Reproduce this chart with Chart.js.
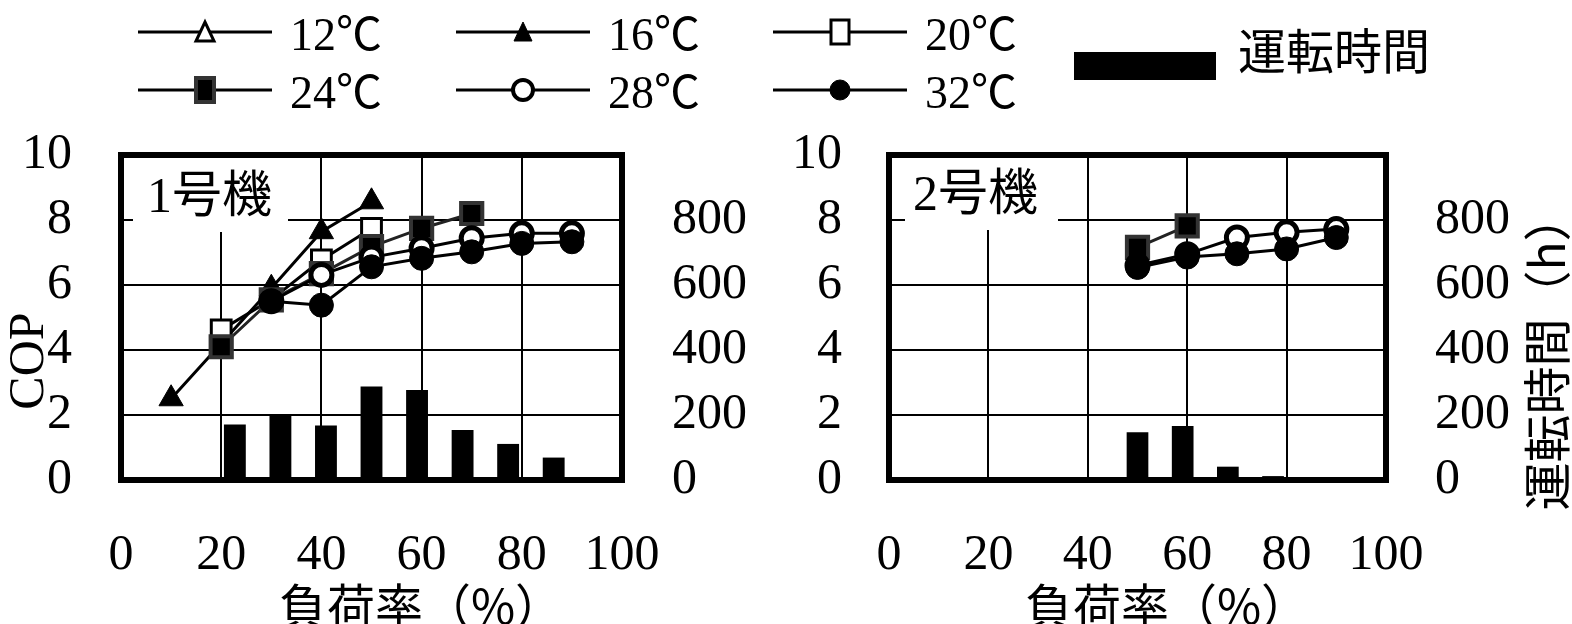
<!DOCTYPE html>
<html>
<head>
<meta charset="utf-8">
<script src="https://cdn.jsdelivr.net/npm/chart.js@4.4.0/dist/chart.umd.min.js"></script>
<style>
  body { margin: 0; background: #fff; width: 1572px; height: 624px; overflow: hidden; position: relative; }
  #legend { position: absolute; left: 0; top: 0; z-index: 2; }
  .box { position: absolute; top: 0; width: 786px; height: 624px; }
</style>
</head>
<body>
<svg id="legend" width="1572" height="120"></svg>
<div class="box" style="left:0"><canvas id="unit1" width="786" height="624"></canvas></div>
<div class="box" style="left:786px"><canvas id="unit2" width="786" height="624"></canvas></div>
<script>
// load factor (%) for the COP points, and the categories used by the hour bars
var loads = [10, 20, 30, 40, 50, 60, 70, 80, 90];
var barCats = ["0", "10", "20", "30", "40", "50", "60", "70", "80", "90", "100"];
var tempNames = ["12℃", "16℃", "20℃", "24℃", "28℃", "32℃"];

// unit 1 (1号機) COP by outdoor temperature
var u1c12 = [null, null, null, null, null, null, null, null, null];
var u1c16 = [2.5, 4.2, 5.9, 7.64, 8.56, null, null, null, null];
var u1c20 = [null, 4.62, 5.55, 6.77, 7.74, null, null, null, null];
var u1c24 = [null, 4.1, 5.54, 6.35, 7.18, 7.74, 8.2, null, null];
var u1c28 = [null, null, 5.5, 6.31, 6.85, 7.13, 7.44, 7.59, 7.59];
var u1c32 = [null, null, 5.5, 5.38, 6.56, 6.82, 7.02, 7.28, 7.33];
var u1Hours = [null, null, 171, 198, 168, 288, 277, 154, 111, 69, null];

// unit 2 (2号機)
var u2c12 = [null, null, null, null, null, null, null, null, null];
var u2c16 = [null, null, null, null, null, null, null, null, null];
var u2c20 = [null, null, null, null, null, null, null, null, null];
var u2c24 = [null, null, null, null, 7.16, 7.82, null, null, null];
var u2c28 = [null, null, null, null, 6.6, 6.95, 7.46, 7.62, 7.72];
var u2c32 = [null, null, null, null, 6.54, 6.86, 6.96, 7.11, 7.46];
var u2Hours = [null, null, null, null, null, 147, 166, 41, 12, 8, null];

var SERIF = '"Liberation Serif", "Noto Sans CJK JP", serif';
var JP = '"Noto Sans CJK JP", sans-serif';

var marks = [
  { style: "triangle", radius: 14, bg: "#fff", border: "#000", bw: 3 },
  { style: "triangle", radius: 14, bg: "#000", border: "#000", bw: 1 },
  { style: "rect", radius: 14, bg: "#fff", border: "#000", bw: 3 },
  { style: "rect", radius: 15, bg: "#000", border: "#333", bw: 4 },
  { style: "circle", radius: 10.5, bg: "#fff", border: "#000", bw: 5 },
  { style: "circle", radius: 12, bg: "#000", border: "#000", bw: 1 },
];

function lineSet(i, values) {
  var m = marks[i];
  return {
    type: "line",
    label: tempNames[i],
    data: loads
      .map(function (x, k) { return { x: x, y: values[k] }; })
      .filter(function (p) { return p.y !== null; }),
    xAxisID: "x",
    yAxisID: "y",
    borderColor: i === 3 ? "#222" : "#000",
    borderWidth: 3,
    pointStyle: m.style,
    pointRadius: m.radius,
    pointBackgroundColor: m.bg,
    pointBorderColor: m.border,
    pointBorderWidth: m.bw,
    tension: 0,
    order: 6 - i,
  };
}

var decor = {
  id: "decor",
  beforeDatasetsDraw: function (chart, args, o) {
    var ctx = chart.ctx, a = chart.chartArea;
    ctx.save();
    ctx.fillStyle = "#fff";
    ctx.fillRect(a.left + o.boxX, a.top + 3, o.boxW, o.boxH);
    ctx.fillStyle = "#000";
    ctx.font = "50px " + SERIF;
    ctx.textBaseline = "middle";
    ctx.fillText(o.name, a.left + o.textX, o.textY);
    ctx.restore();
  },
  afterDatasetsDraw: function (chart) {
    var ctx = chart.ctx, a = chart.chartArea;
    ctx.save();
    ctx.strokeStyle = "#000";
    ctx.lineWidth = 6;
    ctx.strokeRect(a.left, a.top, a.right - a.left, a.bottom - a.top);
    ctx.restore();
  },
  afterDraw: function (chart, args, o) {
    var ctx = chart.ctx;
    ctx.save();
    ctx.fillStyle = "#000";
    ctx.textAlign = "center";
    ctx.textBaseline = "middle";
    ctx.font = "48px " + JP;
    ctx.fillText("負荷率（%）", o.xTitleX, 606);
    if (o.leftTitle) {
      ctx.save();
      ctx.translate(o.leftTitle.x, o.leftTitle.y);
      ctx.rotate(-Math.PI / 2);
      ctx.font = "50px " + SERIF;
      ctx.fillText(o.leftTitle.text, 0, 0);
      ctx.restore();
    }
    if (o.rightTitle) {
      ctx.save();
      ctx.translate(o.rightTitle.x, o.rightTitle.y);
      ctx.rotate(-Math.PI / 2);
      ctx.font = "48px " + JP;
      ctx.fillText(o.rightTitle.text, 0, 0);
      ctx.restore();
    }
    ctx.restore();
  },
};

function makeChart(id, series, hours, cfg) {
  var tickFont = { size: 50, family: SERIF };
  var datasets = series.map(function (vals, i) { return lineSet(i, vals); });
  datasets.push({
    type: "bar",
    label: "運転時間",
    data: hours,
    xAxisID: "xb",
    yAxisID: "y1",
    backgroundColor: "#000",
    borderWidth: 0,
    grouped: false,
    barPercentage: 0.48,
    categoryPercentage: 1,
    order: 10,
  });

  new Chart(document.getElementById(id).getContext("2d"), {
    type: "line",
    data: { labels: barCats, datasets: datasets },
    plugins: [decor],
    options: {
      responsive: false,
      animation: false,
      layout: { padding: { top: 155, left: 0, right: 0, bottom: 0 } },
      plugins: {
        legend: { display: false },
        tooltip: { enabled: false },
        decor: cfg.decor,
      },
      scales: {
        x: {
          type: "linear",
          position: "bottom",
          min: 0,
          max: 100,
          grid: { color: "#000", lineWidth: 2, drawTicks: false },
          border: { display: false },
          ticks: { stepSize: 20, padding: 46, font: tickFont, color: "#000" },
          afterFit: function (s) { s.height = 144; },
        },
        xb: {
          type: "category",
          display: false,
          offset: true,
        },
        y: {
          position: "left",
          min: 0,
          max: 10,
          grid: { color: "#000", lineWidth: 2, drawTicks: false },
          border: { display: false },
          ticks: { stepSize: 2, padding: cfg.leftPad, font: tickFont, color: "#000" },
          afterFit: function (s) { s.width = cfg.leftWidth; },
        },
        y1: {
          position: "right",
          min: 0,
          max: 1000,
          grid: { display: false, drawTicks: false },
          border: { display: false },
          ticks: {
            stepSize: 200,
            padding: cfg.rightPad,
            font: tickFont,
            color: "#000",
            callback: function (v) { return v === 1000 ? "" : v; },
          },
          afterFit: function (s) { s.width = cfg.rightWidth; },
        },
      },
    },
  });
}

makeChart("unit1", [u1c12, u1c16, u1c20, u1c24, u1c28, u1c32], u1Hours, {
  leftWidth: 121, rightWidth: 164, leftPad: 49, rightPad: 50,
  decor: {
    name: "1号機", boxX: 12, boxW: 155, boxH: 74, textX: 26, textY: 199,
    xTitleX: 421, leftTitle: { text: "COP", x: 30, y: 361 },
  },
});

makeChart("unit2", [u2c12, u2c16, u2c20, u2c24, u2c28, u2c32], u2Hours, {
  leftWidth: 103, rightWidth: 186, leftPad: 47, rightPad: 49,
  decor: {
    name: "2号機", boxX: 16, boxW: 153, boxH: 72, textX: 24, textY: 197,
    xTitleX: 381, rightTitle: { text: "運転時間（h）", x: 761, y: 352 },
  },
});

// legend
var svgNS = "http://www.w3.org/2000/svg";
var legend = document.getElementById("legend");
function el(tag, attrs) {
  var e = document.createElementNS(svgNS, tag);
  for (var k in attrs) e.setAttribute(k, attrs[k]);
  legend.appendChild(e);
  return e;
}
var legendCols = [138, 456, 773];
var legendRows = [32, 90];
tempNames.forEach(function (name, i) {
  var x0 = legendCols[i % 3], y = legendRows[Math.floor(i / 3)], cx = x0 + 67;
  var m = marks[i];
  el("line", { x1: x0, y1: y, x2: x0 + 134, y2: y, stroke: "#000", "stroke-width": 3 });
  var paint = { fill: m.bg, stroke: m.border, "stroke-width": Math.min(m.bw, 4) };
  if (m.style === "triangle") {
    paint.points = (cx - 9) + "," + (y + 9) + " " + (cx + 9) + "," + (y + 9) + " " + cx + "," + (y - 10);
    el("polygon", paint);
  } else if (m.style === "rect") {
    paint.x = cx - 9; paint.y = y - 12; paint.width = 18; paint.height = 24;
    el("rect", paint);
  } else {
    paint.cx = cx; paint.cy = y; paint.r = 10;
    el("circle", paint);
  }
  var t = el("text", { x: x0 + 152, y: y + 2, "font-size": 46, "font-family": SERIF, "dominant-baseline": "central" });
  t.textContent = name;
});
el("rect", { x: 1074, y: 52, width: 142, height: 28, fill: "#000" });
var bt = el("text", { x: 1238, y: 48, "font-size": 48, "font-family": JP, "dominant-baseline": "central" });
bt.textContent = "運転時間";
</script>
</body>
</html>
